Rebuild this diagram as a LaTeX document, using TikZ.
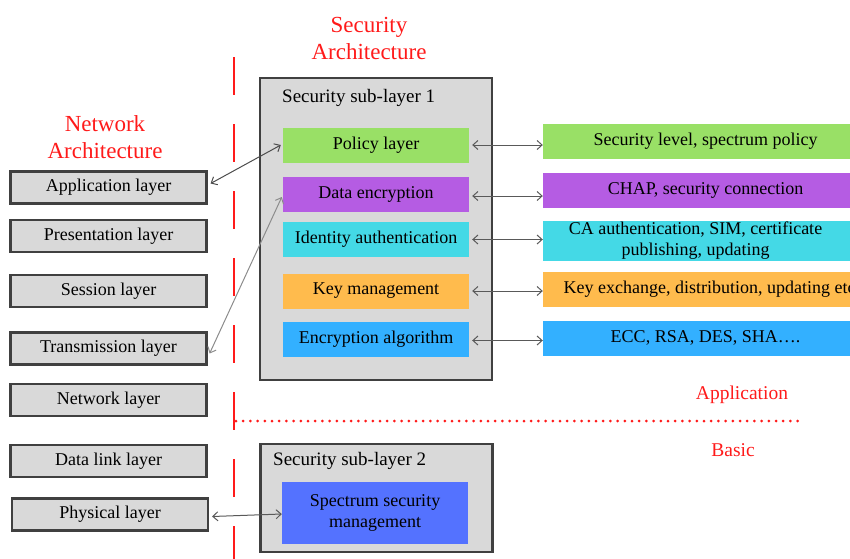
\documentclass[tikz,border=0pt]{standalone}
\usepackage{fontspec}
\setmainfont{Liberation Serif}
\usetikzlibrary{arrows.meta}
\definecolor{boxgray}{HTML}{D9D9D9}
\definecolor{edgegray}{HTML}{404040}
\definecolor{cgreen}{HTML}{99E066}
\definecolor{cpurple}{HTML}{B55CE3}
\definecolor{ccyan}{HTML}{44D9E6}
\definecolor{corange}{HTML}{FFBB4D}
\definecolor{cblue}{HTML}{33B0FF}
\definecolor{cspec}{HTML}{5472FF}
\definecolor{cred}{HTML}{FF1A1A}
\begin{document}
\begin{tikzpicture}[x=1pt,y=-1pt,
  layerbox/.style={draw=edgegray,line width=2.2pt,fill=boxgray,minimum width=196pt,minimum height=32pt,inner sep=0pt,font=\fontsize{18}{21.5}\selectfont},
  subbox/.style={draw=edgegray,line width=2.6pt,fill=boxgray,inner sep=0pt},
  innerbox/.style={minimum width=186pt,minimum height=35pt,inner sep=0pt,font=\fontsize{18}{21.5}\selectfont,align=center},
  rightbox/.style={minimum width=325pt,minimum height=35pt,inner sep=0pt,font=\fontsize{18}{21.5}\selectfont,align=center},
  redlbl/.style={text=cred,align=center,inner sep=0pt},
  link/.style={draw=gray!70!black,line width=1pt,{Straight Barb[length=5pt,width=9pt]}-{Straight Barb[length=5pt,width=9pt]}},
]
\useasboundingbox (0,0) rectangle (850,558);
\clip (0,0) rectangle (850,558);

% red guides
\coordinate (vtop) at (234,57);
\coordinate (vbot) at (234,560);
\draw[cred,line width=2.4pt,dash pattern=on 38pt off 29pt] (vtop) -- (vbot);
\coordinate (hl) at (236,421);
\coordinate (hr) at (800,421);
\draw[cred,line width=3pt,line cap=round,dash pattern=on 0pt off 7.2pt] (hl) -- (hr);

\node[redlbl,font=\fontsize{23}{27}\selectfont] (netarch) at (105,137) {Network\\Architecture};
\node[redlbl,font=\fontsize{23}{27}\selectfont] (secarch) at (369,38) {Security\\Architecture};
\node[redlbl,font=\fontsize{19.5}{23}\selectfont] (applbl) at (742,395) {Application};
\node[redlbl,font=\fontsize{19.5}{23}\selectfont] (baslbl) at (733,450) {Basic};

% left OSI layers
\node[layerbox] (app) at (108.5,187.5) {Application layer};
\node[layerbox] (pres) at (108.5,236) {Presentation layer};
\node[layerbox] (sess) at (108.5,291) {Session layer};
\node[layerbox] (trans) at (108.5,348.5) {Transmission layer};
\node[layerbox] (net) at (108.5,400) {Network layer};
\node[layerbox] (dl) at (108.5,461) {Data link layer};
\node[layerbox] (phy) at (110,514.5) {Physical layer};

% security sub-layer 1
\node[subbox,minimum width=232pt,minimum height=302pt] (sub1) at (376,229) {};
\node[anchor=west,inner sep=0pt,font=\fontsize{19}{22}\selectfont] (sub1t) at (282,98) {Security sub-layer 1};
\node[innerbox,fill=cgreen] (pol) at (376,145) {Policy layer};
\node[innerbox,fill=cpurple] (denc) at (376,194) {Data encryption};
\node[innerbox,fill=ccyan] (ida) at (376,239.5) {Identity authentication};
\node[innerbox,fill=corange] (keym) at (376,291) {Key management};
\node[innerbox,fill=cblue] (encal) at (376,339.5) {Encryption algorithm};

% right boxes
\node[rightbox,fill=cgreen] (r1) at (705.5,141.5) {Security level, spectrum policy};
\node[rightbox,fill=cpurple] (r2) at (705.5,190) {CHAP, security connection};
\node[rightbox,fill=ccyan,minimum height=40pt] (r3) at (705.5,240.5) {\hspace*{-20pt}CA authentication, SIM, certificate\\\hspace*{-20pt}publishing, updating};
\node[rightbox,fill=corange] (r4) at (705.5,289.5) {\hspace*{8pt}Key exchange, distribution, updating etc};
\node[rightbox,fill=cblue] (r5) at (705.5,338) {ECC, RSA, DES, SHA….};

\draw[link,shorten <=3pt] (pol.east) -- (pol.east -| r1.west);
\draw[link,shorten <=3pt] ([yshift=-2pt]denc.east) -- ([yshift=-2pt]denc.east -| r2.west);
\draw[link,shorten <=3pt] (ida.east) -- (ida.east -| r3.west);
\draw[link,shorten <=3pt] (keym.east) -- (keym.east -| r4.west);
\draw[link,shorten <=3pt] ([yshift=-1pt]encal.east) -- ([yshift=-1pt]encal.east -| r5.west);

% security sub-layer 2
\node[subbox,minimum width=232pt,minimum height=108pt] (sub2) at (376.5,498) {};
\node[anchor=west,inner sep=0pt,font=\fontsize{19}{22}\selectfont] (sub2t) at (273,461) {Security sub-layer 2};
\node[innerbox,fill=cspec,minimum height=62pt] (spec) at (375,513) {Spectrum security\\management};

% cross links
\draw[link,draw=gray!60!black] ([xshift=3pt,yshift=4pt]app.east) -- ([xshift=-2pt]pol.west);
\draw[link,draw=gray!90] ([xshift=2pt,yshift=-5pt]trans.east) -- ([xshift=-1pt,yshift=-3pt]denc.west);
\draw[link] ([xshift=3pt,yshift=-2pt]phy.east) -- ([yshift=-1pt]spec.west);
\end{tikzpicture}
\end{document}
